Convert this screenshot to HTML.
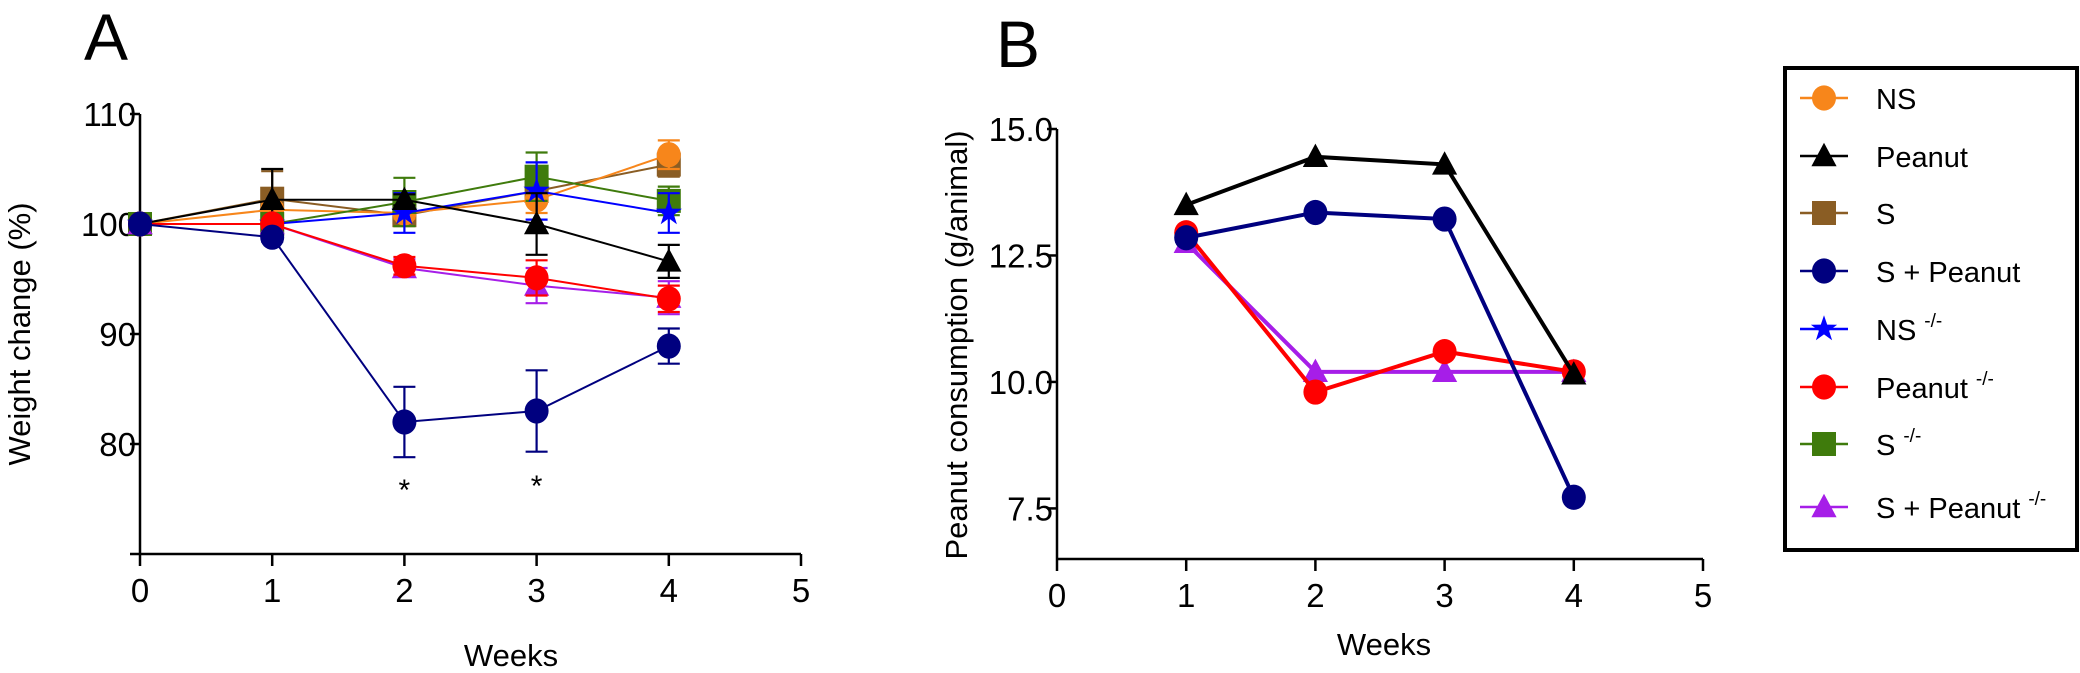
<!DOCTYPE html>
<html><head><meta charset="utf-8"><style>
html,body{margin:0;padding:0;background:#fff;}
svg{display:block;font-family:"Liberation Sans",sans-serif;}
</style></head><body>
<svg id="fig" width="2080" height="673" viewBox="0 0 2080 673" xmlns="http://www.w3.org/2000/svg">
<rect width="2080" height="673" fill="#fff"/>
<g id="pa"></g>
<g id="pb"></g>
<g id="lg"></g>
</svg>
<script>
const weeksA=[0,1,2,3,4];
const weeksB=[1,2,3,4];
const seriesNames=["NS","Peanut","S","S + Peanut","NS","Peanut","S","S + Peanut"];
const seriesSup=["","","","","-/-","-/-","-/-","-/-"];
const colors=["#f7861b","#000000","#8a5d24","#00007f","#0000ff","#ff0000","#3f7b0c","#a61ee8"];
const shapes=["circle","triangle","square","circle","star","circle","square","triangle"];
const weightNS=[100,101.3,101,102.2,106.3];
const weightPeanut=[100,102.2,102.2,100,96.6];
const weightS=[100,102.3,100.8,103,105.4];
const weightSP=[100,98.8,82,83,88.9];
const weightNSko=[100,100,101,103,101];
const weightPko=[100,100,96.2,95.1,93.2];
const weightSko=[100,100,102,104.3,102.1];
const weightSPko=[100,100,96,94.4,93.3];
const errNS=[0,0.5,0.5,1.2,1.3];
const errPeanut=[0,2.8,0.5,2.8,1.5];
const errS=[0,2.5,0.6,0.5,1.1];
const errSP=[0,0.4,3.2,3.7,1.6];
const errNSko=[0,0.3,1.8,2.6,1.8];
const errPko=[0,0.2,0.8,1.6,1.2];
const errSko=[0,0.3,2.2,2.2,1.3];
const errSPko=[0,0.2,0.8,1.6,1.5];
const consPeanut=[13.5,14.45,14.3,10.15];
const consSP=[12.85,13.35,13.22,7.72];
const consPko=[12.95,9.8,10.6,10.2];
const consSPko=[12.75,10.2,10.2,10.2];
const yTicksA=[80,90,100,110];
const yTicksB=[7.5,10.0,12.5,15.0];
const xTicks=[0,1,2,3,4,5];

const NS="http://www.w3.org/2000/svg";
function mk(tag,attrs,parent){const e=document.createElementNS(NS,tag);for(const k in attrs)e.setAttribute(k,attrs[k]);parent.appendChild(e);return e;}
function marker(g,shape,cx,cy,r,col){
  let e;
  if(shape==="circle")e=mk("ellipse",{cx:cx,cy:cy,rx:r,ry:r*1.05,fill:col},g);
  else if(shape==="square")e=mk("rect",{x:cx-r,y:cy-r,width:2*r,height:2*r,fill:col},g);
  else if(shape==="triangle")e=mk("polygon",{points:`${cx},${cy-r*1.1} ${cx+r*1.05},${cy+r*0.85} ${cx-r*1.05},${cy+r*0.85}`,fill:col},g);
  else{let p=[];for(let i=0;i<10;i++){const a=-Math.PI/2+i*Math.PI/5;const rr=i%2?r*0.45:r*1.15;p.push((cx+rr*Math.cos(a)).toFixed(1)+","+(cy+rr*Math.sin(a)).toFixed(1));}e=mk("polygon",{points:p.join(" "),fill:col},g);}
  return e;
}

// Panel A
const A=document.getElementById("pa");
const axA={x0:140,x1:801,y0:554,y1:114,vmin:70,vmax:110};
const xA=v=>axA.x0+(v-0)/5*(axA.x1-axA.x0);
const yA=v=>axA.y0-(v-axA.vmin)/(axA.vmax-axA.vmin)*(axA.y0-axA.y1);
let t=mk("text",{x:84,y:60,"font-size":66},A);t.textContent="A";


let ax=mk("path",{d:`M${axA.x0},${axA.y1} V${axA.y0} M${axA.x0-10},${axA.y0} H${axA.x1}`,stroke:"#000","stroke-width":2.5,fill:"none"},A);


yTicksA.forEach(v=>{mk("line",{x1:axA.x0-10,x2:axA.x0,y1:yA(v),y2:yA(v),stroke:"#000","stroke-width":2.5},A);
  const l=mk("text",{x:axA.x0-4,y:yA(v)+12,"font-size":33,"text-anchor":"end"},A);l.textContent=v;
  
  });
xTicks.forEach(v=>{mk("line",{x1:xA(v),x2:xA(v),y1:axA.y0,y2:axA.y0+12,stroke:"#000","stroke-width":2.5},A);
  const l=mk("text",{x:xA(v),y:axA.y0+48,"font-size":33,"text-anchor":"middle"},A);l.textContent=v;
  
  });
t=mk("text",{x:511,y:666,"font-size":31,"text-anchor":"middle"},A);t.textContent="Weeks";


t=mk("text",{x:0,y:0,"font-size":31,"text-anchor":"middle",transform:"translate(30,334) rotate(-90)"},A);t.textContent="Weight change (%)";


const dataA=[weightNS,weightPeanut,weightS,weightSP,weightNSko,weightPko,weightSko,weightSPko];
const errA=[errNS,errPeanut,errS,errSP,errNSko,errPko,errSko,errSPko];
const orderA=[2,0,6,4,1,7,5,3];
orderA.forEach(si=>{
  const g=mk("g",{},A);
  
  
  const d=dataA[si],e=errA[si],c=colors[si];
  mk("polyline",{points:weeksA.map((w,i)=>xA(w)+","+yA(d[i])).join(" "),fill:"none",stroke:c,"stroke-width":2},g);
  weeksA.forEach((w,i)=>{if(e[i]>0){const x=xA(w);
    mk("path",{d:`M${x},${yA(d[i]+e[i])} V${yA(d[i]-e[i])} M${x-11},${yA(d[i]+e[i])} h22 M${x-11},${yA(d[i]-e[i])} h22`,stroke:c,"stroke-width":2.2,fill:"none"},g);}
    const m=marker(g,shapes[si],xA(w),yA(d[i]),12,c);
    
    
  });
});
[2,3].forEach((w,i)=>{const s=mk("text",{x:xA(w),y:[500,496][i],"font-size":30,"text-anchor":"middle"},A);s.textContent="*";
  
  });

// Panel B
const B=document.getElementById("pb");
const axB={x0:1057,x1:1703,y0:559,y1:129,vmin:6.5,vmax:15.0};
const xB=v=>axB.x0+v/5*(axB.x1-axB.x0);
const yB=v=>axB.y0-(v-axB.vmin)/(axB.vmax-axB.vmin)*(axB.y0-axB.y1);
t=mk("text",{x:996,y:67,"font-size":66},B);t.textContent="B";


ax=mk("path",{d:`M${axB.x0},${axB.y1} V${axB.y0} M${axB.x0},${axB.y0} H${axB.x1}`,stroke:"#000","stroke-width":2.5,fill:"none"},B);


yTicksB.forEach(v=>{mk("line",{x1:axB.x0-10,x2:axB.x0,y1:yB(v),y2:yB(v),stroke:"#000","stroke-width":2.5},B);
  const l=mk("text",{x:axB.x0-4,y:yB(v)+12,"font-size":33,"text-anchor":"end"},B);l.textContent=v.toFixed(1);
  
  });
xTicks.forEach(v=>{mk("line",{x1:xB(v),x2:xB(v),y1:axB.y0,y2:axB.y0+12,stroke:"#000","stroke-width":2.5},B);
  const l=mk("text",{x:xB(v),y:axB.y0+48,"font-size":33,"text-anchor":"middle"},B);l.textContent=v;
  
  });
t=mk("text",{x:1384,y:655,"font-size":31,"text-anchor":"middle"},B);t.textContent="Weeks";


t=mk("text",{x:0,y:0,"font-size":31,"text-anchor":"middle",transform:"translate(967,345) rotate(-90)"},B);t.textContent="Peanut consumption (g/animal)";


const dataB=[consPeanut,consSP,consPko,consSPko];
const idxB=[1,3,5,7];
[3,2,1,0].forEach(k=>{
  const si=idxB[k],d=dataB[k],c=colors[si];
  const g=mk("g",{},B);
  
  
  mk("polyline",{points:weeksB.map((w,i)=>xB(w)+","+yB(d[i])).join(" "),fill:"none",stroke:c,"stroke-width":4},g);
  weeksB.forEach((w,i)=>{const m=marker(g,shapes[si],xB(w),yB(d[i]),12,c);
    
    });
});

// Legend
const L=document.getElementById("lg");
const box=mk("rect",{x:1785,y:68,width:292,height:482,fill:"#fff",stroke:"#000","stroke-width":4},L);


const rowsY=[98,156,213,271,329,387,444,507];
seriesNames.forEach((n,i)=>{
  const g=mk("g",{},L);
  
  
  const y=rowsY[i];
  mk("line",{x1:1800,x2:1848,y1:y,y2:y,stroke:colors[i],"stroke-width":2.5},g);
  marker(g,shapes[i],1824,y,12,colors[i]);
  const tx=mk("text",{x:1876,y:y+11,"font-size":29},g);
  tx.textContent=n;
  if(seriesSup[i]){const s=mk("tspan",{dy:-13,dx:8,"font-size":19},tx);s.textContent=seriesSup[i];}
});
</script>
</body></html>
